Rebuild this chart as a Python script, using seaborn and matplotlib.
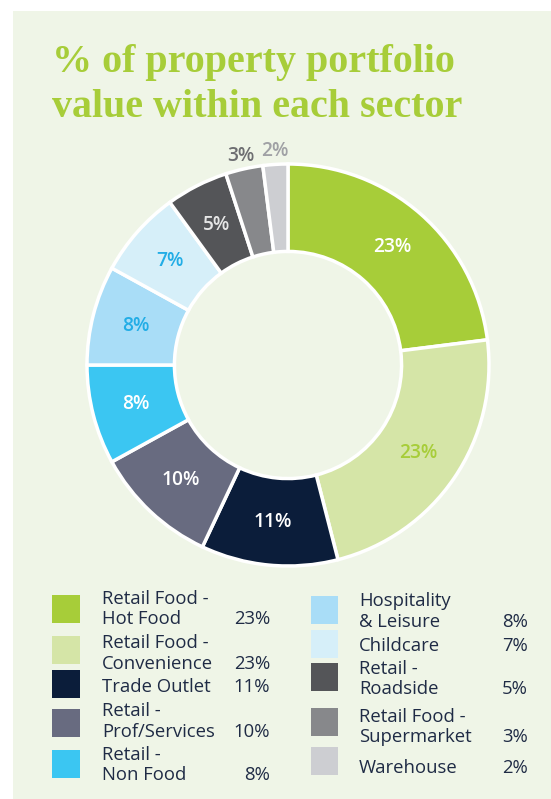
import matplotlib
matplotlib.use("Agg")
import matplotlib.pyplot as plt
from matplotlib.patches import Rectangle
import numpy as np
import seaborn as sns

# ---------------- data ----------------
categories = ["Retail Food -\nHot Food", "Retail Food -\nConvenience", "Trade Outlet",
              "Retail -\nProf/Services", "Retail -\nNon Food", "Hospitality\n& Leisure",
              "Childcare", "Retail -\nRoadside", "Retail Food -\nSupermarket", "Warehouse"]
values = [23, 23, 11, 10, 8, 8, 7, 5, 3, 2]
pct_labels = ["23%", "23%", "11%", "10%", "8%", "8%", "7%", "5%", "3%", "2%"]
colors = ["#a7cd39", "#d5e5a7", "#0b1d3a", "#686b80", "#3bc6f2",
          "#a9ddf7", "#d6eff9", "#545558", "#87888b", "#cdced2"]
label_colors = ["#ffffff", "#a7cd39", "#ffffff", "#ffffff", "#ffffff",
                "#22ade6", "#22ade6", "#e6e6e6", "#6d6e71", "#a0a1a5"]
title_lines = ["% of property portfolio", "value within each sector"]

# ---------------- style ----------------
sns.set_theme(style="white")
plt.rcParams["font.family"] = ["Open Sans", "DejaVu Sans"]

W, H = 551, 799
fig = plt.figure(figsize=(W / 100, H / 100), dpi=100)
fig.patch.set_facecolor("white")

def fx(x):
    return x / W

def fy(y):
    return 1 - y / H

# background panel
fig.patches.append(Rectangle((fx(13), 0), 1 - fx(13), fy(11), transform=fig.transFigure,
                             facecolor="#eff5e7", edgecolor="none", zorder=-10))

# title
for i, line in enumerate(title_lines):
    fig.text(fx(52), fy(72 + 45 * i), line, ha="left", va="baseline",
             fontsize=28.9, color="#a7cd39", fontweight="bold",
             family=["Liberation Serif", "DejaVu Serif"])

# ---------------- donut ----------------
cx, cy, R = 288, 365, 201
L = 1.2
side = 2 * L * R
ax = fig.add_axes([fx(cx - side / 2), (H - cy - side / 2) / H, side / W, side / H])
ax.patch.set_alpha(0)
ax.set_zorder(5)

wedge_w = 0.435
ax.pie(values, colors=colors, startangle=90, counterclock=False, radius=1,
       wedgeprops=dict(width=wedge_w, edgecolor="white", linewidth=2.5))
ax.set_xlim(-L, L)
ax.set_ylim(-L, L)
ax.set_aspect("equal")
ax.axis("off")

total = float(sum(values))
cum = np.cumsum([0] + values[:-1])
for v, c, lab, lc in zip(values, cum, pct_labels, label_colors):
    mid = (c + v / 2) / total
    ang = np.deg2rad(90 - 360 * mid)
    r = 1 - wedge_w / 2 if v >= 4 else 1.065
    ax.text(r * np.cos(ang), r * np.sin(ang), lab, ha="center", va="center",
            fontsize=13.8, color=lc, fontweight="semibold")

# ---------------- legend ----------------
# column layout: (patch x, text x, pct right x)
cols = [(52, 102, 270), (311, 359, 528)]
patch_top = [595, 636, 670, 709, 750, 596, 630, 663, 708, 747]
last_base = [624, 669, 692, 737, 780, 627, 651, 694, 742, 773]
line_gap = 20.5
psz = 27.5
txt_color = "#1f2b45"
for i, (cat, lab, col) in enumerate(zip(categories, pct_labels, colors)):
    px, tx, rx = cols[0] if i < 5 else cols[1]
    fig.patches.append(Rectangle((fx(px), fy(patch_top[i] + psz)), psz / W, psz / H,
                                 transform=fig.transFigure, facecolor=col,
                                 edgecolor="none", zorder=2))
    lines = cat.split("\n")
    n = len(lines)
    for j, ln in enumerate(lines):
        yb = last_base[i] - (n - 1 - j) * line_gap
        fig.text(fx(tx), fy(yb), ln, ha="left", va="baseline", fontsize=13.3,
                 color=txt_color)
    fig.text(fx(rx), fy(last_base[i]), lab, ha="right", va="baseline", fontsize=13.3,
             color=txt_color)

fig.savefig("out.png", dpi=100, facecolor="white")
